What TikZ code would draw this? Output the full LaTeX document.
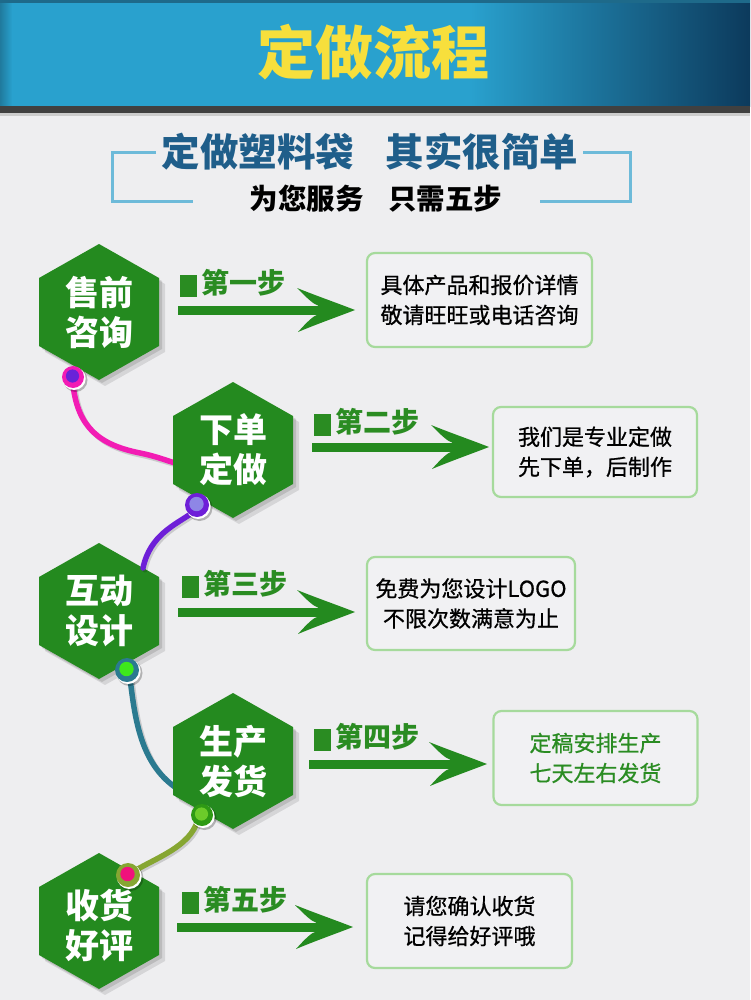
\documentclass[tikz,border=0pt]{standalone}
\usepackage{fontspec}
\newfontfamily\cjk{Noto Sans CJK SC}
\newfontfamily\cjkmed[FakeBold=0.7]{Noto Sans CJK SC}
\usetikzlibrary{calc}
\definecolor{bg}{HTML}{EEEEF0}
\definecolor{hexgreen}{HTML}{248A1F}
\definecolor{stepgreen}{HTML}{2A8C22}
\definecolor{boxline}{HTML}{A6DA9C}
\definecolor{boxfill}{HTML}{F1F1F3}
\definecolor{subblue}{HTML}{1F5E8A}
\definecolor{bracketblue}{HTML}{6DBAD9}
\definecolor{titleyellow}{HTML}{F7DF3C}
\definecolor{headl}{HTML}{29A1CE}
\definecolor{headr}{HTML}{0C3A5C}
\definecolor{headtop}{HTML}{1E6A8A}
\definecolor{pinkc}{HTML}{F21CB4}
\definecolor{purplec}{HTML}{6E1FD8}
\definecolor{purplein}{HTML}{6A22D8}
\definecolor{lavender}{HTML}{8E86E6}
\definecolor{tealc}{HTML}{2B7A90}
\definecolor{limec}{HTML}{3EE81C}
\definecolor{dgreenc}{HTML}{2E9A14}
\definecolor{lgreenc}{HTML}{6CCB2A}
\definecolor{olivec}{HTML}{86A632}
\definecolor{hotpink}{HTML}{F0127C}
\tikzset{
  hexa/.pic={
    \fill[black,opacity=0.10] (6,-62) -- (66,-28) -- (66,40) -- (6,74) -- (-54,40) -- (-54,-28) -- cycle;
    \fill[black,opacity=0.12] (3,-65) -- (63,-31) -- (63,37) -- (3,71) -- (-57,37) -- (-57,-31) -- cycle;
    \fill[hexgreen] (0,-68) -- (60,-34) -- (60,34) -- (0,68) -- (-60,34) -- (-60,-34) -- cycle;
  },
  arrowhead/.pic={
    \fill[hexgreen] (0,0) .. controls (-18,-7) and (-38,-14) .. (-58,-22)
      .. controls (-48,-12) and (-42,-6) .. (-37,-4.5) -- (-37,4.5)
      .. controls (-42,6) and (-48,12) .. (-57,22)
      .. controls (-38,14) and (-18,7) .. (0,0) -- cycle;
  },
  hextext/.style={font=\cjk\bfseries\fontsize{34}{40}\selectfont, text=white, align=center, inner sep=0pt},
  steplabel/.style={font=\cjk\bfseries\fontsize{28}{28}\selectfont, text=stepgreen, anchor=west, inner sep=0pt},
  infobox/.style={draw=boxline, line width=2.2pt, rounded corners=8pt, fill=boxfill,
    font=\cjkmed\fontsize{22}{30}\selectfont, align=center, inner sep=0pt},
  bracket/.style={draw=bracketblue, line width=3pt},
  stringline/.style={line width=5.5pt, line cap=round},
  strshadow/.style={line width=5pt, line cap=round, black, opacity=0.15},
}
\newcommand\mydot[4]{% coord, outer color, inner color, radius
  \fill[black,opacity=0.25] ($(#1)+(2.5,3)$) circle (#4+1);
  \fill[white] ($(#1)+(1.2,1.5)$) circle (#4+0.5);
  \fill[#2] (#1) circle (#4);
  \fill[#3] ($(#1)+(-0.5,-1)$) circle (#4*0.6);
}
\newcommand\bigarrow[2]{% start, tip
  \fill[hexgreen] ($(#1)+(0,-4.5)$) rectangle ($(#2)+(-36,4.5)$);
  \pic at (#2) {arrowhead};
}
\begin{document}
\begin{tikzpicture}[x=1pt,y=-1pt]
\useasboundingbox (0,0) rectangle (750,1000);
\fill[bg] (0,0) rectangle (750,1000);
% header
\fill[headl] (0,0) rectangle (470,107);
\shade[left color=headl, right color=headr] (470,0) rectangle (750,107);
\shade[left color=headtop!80!black, right color=headl, opacity=0.5] (0,0) rectangle (12,107);
\fill[headtop] (0,0) rectangle (750,3);
\fill[black!75] (0,106) rectangle (750,113);
\fill[black!20] (0,113) rectangle (750,116);
\node[font=\cjk\bfseries\fontsize{58}{58}\selectfont, text=titleyellow, inner sep=0pt] (title) at (373,52) {定做流程};
% subtitles
\node[font=\cjk\bfseries\fontsize{38.5}{38.5}\selectfont, text=subblue, inner sep=0pt] (sub1) at (370,152) {定做塑料袋\hspace{32pt}其实很简单};
\node[font=\cjk\bfseries\fontsize{28.5}{28.5}\selectfont, text=black, inner sep=0pt] (sub2) at (376,199) {为您服务\hspace{25pt}只需五步};
\draw[bracket] (156,153) -- (112,153) -- (112,202) -- (193,202);
\draw[bracket] (583,153) -- (630,153) -- (630,202) -- (540,202);
% hex centers
\coordinate (c1) at (99,312);
\coordinate (c2) at (233,450);
\coordinate (c3) at (99,611);
\coordinate (c4) at (233,761);
\coordinate (c5) at (99,921);
% dots
\coordinate (d1) at (73,377);
\coordinate (d2) at (197,505);
\coordinate (d3) at (127,670);
\coordinate (d4) at (202,815);
\coordinate (d5) at (128,875);
% string ends
\coordinate (e2) at ($(c2)+(-58,13)$);
\coordinate (e3) at ($(c3)+(44,-43)$);
\coordinate (e4) at ($(c4)+(-58,26)$);
% hexagons
\pic at (c1) {hexa};
\pic at (c3) {hexa};
\pic at (c5) {hexa};
% strings (shadows)
\draw[strshadow] ($(d1)+(2,10)$) .. controls (80,430) and (102,447) .. (140,455) .. controls (155,458) and (165,462) .. ($(e2)+(2,2)$);
\draw[strshadow] ($(d2)+(-3,10)$) .. controls (177,527) and (152,537) .. ($(e3)+(2,2)$);
\draw[strshadow] ($(d3)+(5,10)$) .. controls (137,720) and (143,765) .. ($(e4)+(2,2)$);
% strings
\draw[stringline, pinkc] ($(d1)+(0,8)$) .. controls (78,428) and (100,445) .. (140,453) .. controls (155,456) and (165,460) .. (e2);
\draw[stringline, purplec] ($(d2)+(-5,8)$) .. controls (175,525) and (150,535) .. (e3);
\draw[stringline, tealc] ($(d3)+(3,8)$) .. controls (135,720) and (141,763) .. (e4);
\pic at (c2) {hexa};
\pic at (c4) {hexa};
\draw[strshadow] ($(d4)+(-4,12)$) .. controls (187,852) and (152,862) .. ($(d5)+(2,2)$);
\draw[stringline, olivec] ($(d4)+(-6,10)$) .. controls (185,850) and (150,860) .. (d5);
% hex texts
\node[hextext] (h1) at (c1) {售前\\咨询};
\node[hextext] (h2) at (c2) {下单\\定做};
\node[hextext] (h3) at (c3) {互动\\设计};
\node[hextext] (h4) at (c4) {生产\\发货};
\node[hextext] (h5) at ($(c5)+(0,4)$) {收货\\好评};
% dots on top
\mydot{d1}{pinkc}{purplein}{11}
\mydot{d2}{purplec}{lavender}{12}
\mydot{d3}{tealc}{limec}{12}
\mydot{d4}{dgreenc}{lgreenc}{11}
\mydot{d5}{olivec}{hotpink}{12}
% step labels
\node[steplabel] (s1) at (180,283) {\rule[-3pt]{17pt}{22pt}\hspace{4pt}第一步};
\node[steplabel] (s2) at (314,422) {\rule[-3pt]{17pt}{22pt}\hspace{4pt}第二步};
\node[steplabel] (s3) at (182,584) {\rule[-3pt]{17pt}{22pt}\hspace{4pt}第三步};
\node[steplabel] (s4) at (314,737) {\rule[-3pt]{17pt}{22pt}\hspace{4pt}第四步};
\node[steplabel] (s5) at (182,900) {\rule[-3pt]{17pt}{22pt}\hspace{4pt}第五步};
% boxes
\node[infobox, minimum width=225pt, minimum height=94pt] (b1) at (479.5,300) {具体产品和报价详情\\敬请旺旺或电话咨询};
\node[infobox, minimum width=204pt, minimum height=90pt] (b2) at (595,452) {我们是专业定做\\先下单，后制作};
\node[infobox, minimum width=208pt, minimum height=93pt] (b3) at (471,603.5) {免费为您设计LOGO\\不限次数满意为止};
\node[infobox, minimum width=204pt, minimum height=94pt, text=stepgreen] (b4) at (595.5,758) {定稿安排生产\\七天左右发货};
\node[infobox, minimum width=205pt, minimum height=94pt] (b5) at (469.5,921) {请您确认收货\\记得给好评哦};
% arrows
\coordinate (a1s) at (178,310); \coordinate (a1t) at (355,310);
\coordinate (a2s) at (312,447); \coordinate (a2t) at (489,447);
\coordinate (a3s) at (178,612); \coordinate (a3t) at (355,612);
\coordinate (a4s) at (309,764); \coordinate (a4t) at (487,764);
\coordinate (a5s) at (177,927); \coordinate (a5t) at (353,927);
\bigarrow{a1s}{a1t}
\bigarrow{a2s}{a2t}
\bigarrow{a3s}{a3t}
\bigarrow{a4s}{a4t}
\bigarrow{a5s}{a5t}
\end{tikzpicture}
\end{document}
